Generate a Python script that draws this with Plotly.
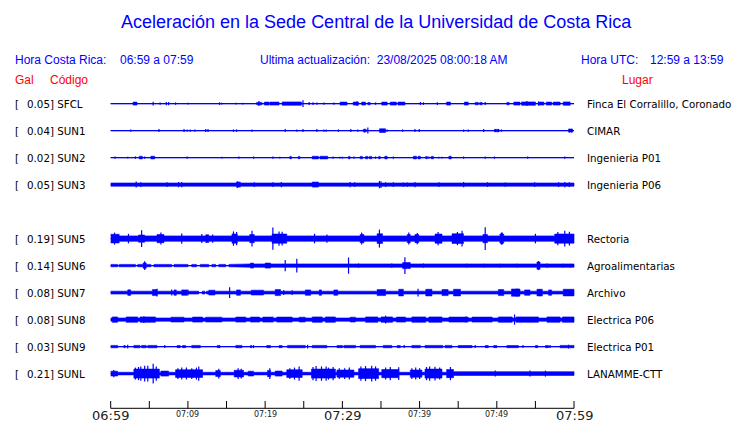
import plotly.graph_objects as go

# ---------------- data ----------------
CODES = ["SFCL", "SUN1", "SUN2", "SUN3", "SUN4", "SUN5", "SUN6", "SUN7", "SUN8", "SUN9", "SUNL"]
GAL_MAX = ["0.05", "0.04", "0.02", "0.05", None, "0.19", "0.14", "0.08", "0.08", "0.03", "0.21"]
PLACES = ["Finca El Corralillo, Coronado", "CIMAR", "Ingenieria P01", "Ingenieria P06", None,
          "Rectoria", "Agroalimentarias", "Archivo", "Electrica P06", "Electrica P01", "LANAMME-CTT"]

# envelope segments [start_min, end_min, half-amplitude Gal]
SEG_SFCL = [[2.9, 3.4, 0.025], [18.9, 19.6, 0.02], [19.9, 20.5, 0.025], [20.6, 21.8, 0.025],
            [22.2, 24.7, 0.028], [29.7, 30.6, 0.025], [31.4, 32.1, 0.025], [32.5, 33.0, 0.025],
            [33.3, 33.6, 0.02], [35.1, 35.8, 0.025], [36.2, 37.0, 0.025], [37.2, 38.1, 0.025],
            [43.5, 44.0, 0.025], [45.8, 46.3, 0.025], [47.2, 47.6, 0.02], [47.8, 48.1, 0.02],
            [51.3, 51.6, 0.02], [52.2, 53.0, 0.025], [53.2, 55.0, 0.028], [55.4, 56.1, 0.025],
            [56.4, 57.1, 0.025], [57.3, 58.2, 0.025], [58.6, 59.5, 0.028]]
SPK_SFCL = [[5.5, 0.03], [6.4, 0.02], [7.2, 0.028], [7.5, 0.028], [8.4, 0.02], [10.0, 0.015],
            [14.1, 0.022], [14.4, 0.015], [16.2, 0.015], [17.1, 0.015], [19.2, 0.042], [24.9, 0.055],
            [25.7, 0.025], [26.2, 0.022], [26.7, 0.02], [27.6, 0.02], [28.9, 0.02], [31.9, 0.04],
            [34.3, 0.02], [40.1, 0.025], [40.5, 0.022], [42.3, 0.022], [48.5, 0.025], [53.9, 0.042],
            [55.4, 0.035]]

SEG_SUN1 = [[34.8, 35.6, 0.03], [32.7, 33.1, 0.02], [49.7, 50.3, 0.02], [59.3, 59.8, 0.025]]
SPK_SUN1 = [[2.6, 0.02], [6.25, 0.025], [9.5, 0.025], [9.9, 0.02], [10.3, 0.02], [10.9, 0.02],
            [12.3, 0.025], [12.6, 0.025], [15.9, 0.02], [16.3, 0.02], [18.3, 0.02], [22.6, 0.025],
            [24.1, 0.02], [24.9, 0.025], [26.7, 0.025], [27.6, 0.02], [27.9, 0.02], [29.5, 0.02],
            [31.1, 0.025], [32.0, 0.02], [32.9, 0.03], [33.3, 0.05], [35.8, 0.02], [37.8, 0.02],
            [39.4, 0.025], [39.96, 0.025], [45.7, 0.02], [46.3, 0.02], [48.3, 0.025], [49.8, 0.025],
            [50.2, 0.025], [50.6, 0.02], [59.4, 0.03], [59.7, 0.03]]

SEG_SUN2 = [[3.7, 4.1, 0.022], [5.2, 5.7, 0.022], [23.2, 23.4, 0.02], [24.3, 24.5, 0.02],
            [26.1, 26.9, 0.022], [27.1, 28.1, 0.022], [30.8, 31.0, 0.02], [32.3, 32.6, 0.02],
            [33.0, 33.3, 0.02], [33.5, 33.8, 0.02], [34.7, 34.9, 0.02], [35.5, 35.8, 0.022],
            [39.2, 39.6, 0.022], [39.8, 40.1, 0.022], [40.8, 41.0, 0.02], [41.5, 41.8, 0.02],
            [43.8, 44.1, 0.022]]
SPK_SUN2 = [[0.56, 0.02], [2.2, 0.015], [3.2, 0.02], [4.4, 0.02], [9.9, 0.018], [14.4, 0.015],
            [16.6, 0.018], [18.5, 0.018], [21.0, 0.02], [21.9, 0.015], [28.8, 0.02], [29.7, 0.015],
            [30.0, 0.015], [31.5, 0.02], [34.3, 0.02], [36.6, 0.02], [41.2, 0.02], [42.5, 0.015],
            [42.9, 0.015], [45.7, 0.02], [48.5, 0.018], [49.7, 0.018], [54.0, 0.018], [58.8, 0.018]]

SEG_SUN3 = [[0, 60, 0.027], [16.3, 16.8, 0.042], [26.1, 26.9, 0.042], [8.75, 9.2, 0.035]]
SPK_SUN3 = [[3.3, 0.05], [3.9, 0.04], [7.3, 0.04], [8.8, 0.045], [9.2, 0.045], [16.4, 0.055],
            [18.6, 0.04], [21.0, 0.04], [22.1, 0.045], [31.0, 0.045], [31.6, 0.04], [34.8, 0.06],
            [35.0, 0.055], [35.6, 0.04], [36.6, 0.04], [37.9, 0.035], [38.4, 0.035], [39.4, 0.045],
            [42.5, 0.04], [45.7, 0.045], [48.8, 0.04], [51.1, 0.035], [54.9, 0.04], [58.0, 0.04],
            [58.8, 0.045], [59.4, 0.04]]

SEG_SUN4 = []
SPK_SUN4 = []

SEG_SUN5 = [[0, 60, 0.045], [0, 1.1, 0.072], [3.6, 4.4, 0.06], [6.0, 6.9, 0.068], [9.0, 9.5, 0.056],
            [12.3, 12.7, 0.064], [15.7, 16.4, 0.076], [18.0, 18.6, 0.068], [20.9, 22.8, 0.076],
            [26.0, 26.9, 0.056], [29.0, 29.5, 0.056], [32.3, 32.8, 0.068], [34.5, 35.2, 0.08],
            [36.5, 36.9, 0.056], [38.4, 38.8, 0.068], [39.4, 39.9, 0.068], [42.0, 42.9, 0.076],
            [44.2, 45.7, 0.08], [48.2, 48.8, 0.068], [50.4, 50.9, 0.076], [54.5, 55.4, 0.056],
            [57.5, 60, 0.076]]
SPK_SUN5 = [[4.0, 0.14], [15.9, 0.12], [16.3, 0.11], [18.3, 0.13], [21.0, 0.185], [22.2, 0.115],
            [34.8, 0.15], [45.5, 0.13], [48.5, 0.19], [50.6, 0.1], [58.8, 0.13], [11.8, 0.075],
            [28.0, 0.07], [0.5, 0.1], [2.3, 0.08], [6.5, 0.1], [9.2, 0.085], [13.2, 0.07],
            [21.8, 0.12], [26.4, 0.08], [32.5, 0.1], [38.6, 0.1], [39.7, 0.095], [42.4, 0.11],
            [44.9, 0.11], [50.7, 0.1], [55.0, 0.08], [57.9, 0.11], [59.4, 0.115]]

SEG_SUN6 = [[0, 0.9, 0.02], [1.1, 3.2, 0.02], [3.5, 5.2, 0.02], [5.6, 7.9, 0.02], [8.2, 10.0, 0.02],
            [10.5, 11.1, 0.02], [11.6, 12.7, 0.02], [13.1, 13.6, 0.02], [14.0, 14.9, 0.02],
            [15.3, 17.8, 0.02], [17.8, 60, 0.028], [4.2, 4.6, 0.045], [18.1, 18.5, 0.042],
            [20.0, 20.7, 0.042], [22.4, 22.8, 0.04], [26.1, 26.9, 0.04], [37.8, 38.8, 0.05],
            [44.3, 44.8, 0.035], [55.2, 55.6, 0.06], [54.2, 54.4, 0.04]]
SPK_SUN6 = [[4.4, 0.072], [22.6, 0.095], [24.1, 0.115], [30.8, 0.135], [38.1, 0.14], [32.1, 0.035],
            [36.4, 0.035], [40.5, 0.035], [46.1, 0.03], [48.3, 0.03], [50.4, 0.03], [52.6, 0.03],
            [55.4, 0.075], [56.5, 0.035], [58.6, 0.03], [59.5, 0.03]]

SEG_SUN7 = [[0, 11.4, 0.024], [11.85, 12.2, 0.024], [12.4, 60, 0.024], [2.2, 2.6, 0.045],
            [5.4, 6.0, 0.05], [8.2, 8.5, 0.045], [9.2, 9.9, 0.045], [12.7, 13.5, 0.04],
            [16.3, 16.8, 0.045], [18.2, 19.8, 0.04], [21.3, 22.0, 0.05], [25.2, 25.9, 0.045],
            [27.0, 27.3, 0.045], [28.9, 29.4, 0.045], [34.5, 35.6, 0.05], [37.3, 37.9, 0.055],
            [40.8, 41.6, 0.055], [42.9, 43.7, 0.05], [44.4, 45.3, 0.055], [50.2, 50.9, 0.05],
            [51.9, 53.0, 0.06], [53.6, 54.3, 0.045], [55.2, 55.9, 0.055], [56.7, 57.1, 0.045],
            [58.6, 60, 0.055]]
SPK_SUN7 = [[15.4, 0.09], [6.0, 0.065], [2.4, 0.05], [39.8, 0.065], [52.6, 0.07], [55.6, 0.06],
            [7.9, 0.05], [10.0, 0.05], [22.4, 0.04], [23.5, 0.04]]

SEG_SUN8 = [[0, 60, 0.027], [0.2, 0.9, 0.045], [2.0, 3.5, 0.045], [3.8, 5.8, 0.045],
            [7.8, 9.5, 0.04], [10.6, 11.9, 0.042], [12.3, 14.4, 0.04], [16.2, 17.5, 0.042],
            [18.1, 19.3, 0.042], [19.7, 20.9, 0.042], [21.5, 23.5, 0.042], [24.4, 25.2, 0.04],
            [26.1, 27.4, 0.045], [27.8, 29.1, 0.045], [31.0, 31.7, 0.04], [33.0, 34.6, 0.045],
            [35.0, 36.5, 0.045], [37.0, 38.2, 0.042], [39.0, 40.8, 0.045], [41.2, 42.9, 0.045],
            [43.8, 46.3, 0.042], [46.8, 49.4, 0.042], [50.2, 52.0, 0.045], [52.5, 55.4, 0.045],
            [56.5, 58.2, 0.045], [58.5, 60, 0.045]]
SPK_SUN8 = [[52.3, 0.085], [35.6, 0.065], [4.3, 0.055], [21.0, 0.05], [46.0, 0.05]]

SEG_SUN9 = [[0, 0.9, 0.02], [1.7, 1.9, 0.018], [3.0, 3.8, 0.02], [4.0, 4.6, 0.02], [4.8, 6.0, 0.02],
            [8.6, 9.0, 0.018], [9.3, 9.7, 0.018], [10.5, 11.6, 0.02], [13.8, 14.0, 0.018],
            [16.2, 17.0, 0.02], [18.1, 18.3, 0.018], [20.2, 20.7, 0.018], [21.8, 22.2, 0.018],
            [22.9, 25.2, 0.02], [26.1, 28.0, 0.02], [29.3, 30.0, 0.018], [30.2, 31.7, 0.02],
            [32.3, 34.3, 0.02], [35.3, 36.4, 0.02], [37.1, 37.5, 0.018], [39.0, 40.1, 0.02],
            [40.7, 43.0, 0.02], [43.3, 44.2, 0.02], [45.0, 46.8, 0.018], [48.5, 48.9, 0.018],
            [49.6, 50.0, 0.018], [51.3, 52.8, 0.018], [55.0, 55.3, 0.018], [56.3, 56.7, 0.018],
            [58.2, 60, 0.02]]
SPK_SUN9 = [[2.2, 0.03], [7.0, 0.025], [14.1, 0.025], [18.5, 0.025], [25.5, 0.03], [38.0, 0.025],
            [47.2, 0.025], [53.4, 0.025], [56.9, 0.025], [59.3, 0.03]]

SEG_SUNL = [[0, 60, 0.022], [44.4, 60, 0.032], [0, 0.9, 0.04], [1.7, 2.8, 0.034], [3.0, 6.3, 0.075],
            [6.5, 7.5, 0.042], [8.4, 11.9, 0.064], [13.6, 14.2, 0.05], [16.0, 17.2, 0.056],
            [17.8, 18.5, 0.04], [19.0, 19.6, 0.03], [20.3, 20.7, 0.052], [21.3, 22.2, 0.042],
            [22.8, 24.8, 0.064], [26.0, 29.1, 0.075], [29.3, 31.5, 0.06], [32.1, 34.7, 0.082],
            [35.1, 37.3, 0.068], [38.8, 40.3, 0.06], [40.7, 42.9, 0.075], [43.5, 44.4, 0.068]]
SPK_SUNL = [[5.5, 0.165], [4.4, 0.13], [3.6, 0.11], [11.4, 0.12], [9.2, 0.1], [14.0, 0.08],
            [16.5, 0.09], [20.6, 0.09], [24.4, 0.12], [26.6, 0.125], [27.9, 0.12], [28.8, 0.11],
            [30.9, 0.1], [33.0, 0.125], [33.8, 0.13], [36.2, 0.11], [37.3, 0.105], [39.5, 0.1],
            [41.3, 0.12], [42.0, 0.115], [44.0, 0.11], [49.8, 0.05], [54.3, 0.05], [56.3, 0.05],
            [3.2, 0.1], [3.9, 0.12], [4.8, 0.13], [5.9, 0.12], [8.7, 0.09], [9.8, 0.1],
            [10.5, 0.09], [11.1, 0.1], [23.2, 0.09], [23.8, 0.1], [26.2, 0.11], [27.3, 0.12],
            [28.2, 0.1], [29.6, 0.09], [30.3, 0.09], [32.4, 0.12], [34.3, 0.12], [35.6, 0.1],
            [39.0, 0.09], [40.0, 0.09], [40.9, 0.11], [42.6, 0.1], [16.9, 0.08], [0.4, 0.06]]

SEGMENTS = [SEG_SFCL, SEG_SUN1, SEG_SUN2, SEG_SUN3, SEG_SUN4, SEG_SUN5, SEG_SUN6, SEG_SUN7,
            SEG_SUN8, SEG_SUN9, SEG_SUNL]
SPIKES = [SPK_SFCL, SPK_SUN1, SPK_SUN2, SPK_SUN3, SPK_SUN4, SPK_SUN5, SPK_SUN6, SPK_SUN7,
          SPK_SUN8, SPK_SUN9, SPK_SUNL]

DURATION_MIN = 60
TICK_MINUTES = list(range(0, 61, 5))
LABEL_MINUTES = [0, 10, 20, 30, 40, 50, 60]
LABEL_TEXT = ["06:59", "07:09", "07:19", "07:29", "07:39", "07:49", "07:59"]
MAJOR_LABELS = ["06:59", "07:29", "07:59"]

TITLE = "Aceleración en la Sede Central de la Universidad de Costa Rica"
LOCAL_RANGE = "06:59 a 07:59"
UTC_RANGE = "12:59 a 13:59"
UPDATED = "23/08/2025 08:00:18 AM"

# ---------------- layout constants ----------------
W, H = 740, 423
ROW0_PX, ROW_PX = 103.6, 27.0         # first row baseline & row spacing (px)
X0_PX, PX_PER_MIN = 110.7, 7.722
GAL_TO_ROW = 60.0 / ROW_PX            # 60 px per Gal
AXIS_PX, TICK_TOP_PX = 408.3, 401.0
BLUE = "#0000ff"
RED = "#ff0000"


def px_to_row(py):
    return (py - ROW0_PX) / ROW_PX


def envelope(segs):
    xs = sorted(set([0, DURATION_MIN] + [s[0] for s in segs] + [s[1] for s in segs]))
    ex, ea = [], []
    for a0, a1 in zip(xs[:-1], xs[1:]):
        mid = (a0 + a1) / 2
        amp = max([s[2] for s in segs if s[0] <= mid <= s[1]], default=0.0)
        ex += [a0, a1]
        ea += [amp, amp]
    return ex, ea


fig = go.Figure()
annotations = []

for i, code in enumerate(CODES):
    if GAL_MAX[i] is None:
        continue
    base = i
    fig.add_trace(go.Scatter(x=[0, DURATION_MIN], y=[base, base], mode="lines",
                             line=dict(color=BLUE, width=1.1), hoverinfo="skip"))
    segs = SEGMENTS[i]
    if segs:
        ex, ea = envelope(segs)
        px = ex + ex[::-1]
        py = [base - a * GAL_TO_ROW for a in ea] + [base + a * GAL_TO_ROW for a in ea[::-1]]
        fig.add_trace(go.Scatter(x=px, y=py, mode="lines", fill="toself", fillcolor=BLUE,
                                 line=dict(color=BLUE, width=0.6), hoverinfo="skip"))
    sx, sy = [], []
    for m, a in SPIKES[i]:
        sx += [m, m, None]
        sy += [base - a * GAL_TO_ROW, base + a * GAL_TO_ROW, None]
    if sx:
        fig.add_trace(go.Scatter(x=sx, y=sy, mode="lines", line=dict(color=BLUE, width=1.2),
                                 hoverinfo="skip"))
    yp = 1 - (ROW0_PX + ROW_PX * i) / H
    txt_font = dict(family="DejaVu Sans", size=10.3, color="black")
    annotations.append(dict(x=13 / W, y=yp, xref="paper", yref="paper", text="[",
                            showarrow=False, xanchor="left", yanchor="middle", font=txt_font))
    annotations.append(dict(x=25 / W, y=yp, xref="paper", yref="paper",
                            text=f"{GAL_MAX[i]}] {code}", showarrow=False,
                            xanchor="left", yanchor="middle", font=txt_font))
    annotations.append(dict(x=585 / W, y=yp, xref="paper", yref="paper", text=PLACES[i],
                            showarrow=False, xanchor="left", yanchor="middle", font=txt_font))

# time axis
axis_row = px_to_row(AXIS_PX)
tick_row = px_to_row(TICK_TOP_PX)
fig.add_trace(go.Scatter(x=[0, DURATION_MIN], y=[axis_row, axis_row], mode="lines",
                         line=dict(color="black", width=1), hoverinfo="skip"))
tx, ty = [], []
for m in TICK_MINUTES:
    tx += [m, m, None]
    ty += [axis_row, tick_row, None]
fig.add_trace(go.Scatter(x=tx, y=ty, mode="lines", line=dict(color="black", width=1),
                         hoverinfo="skip"))
for m, lab in zip(LABEL_MINUTES, LABEL_TEXT):
    major = lab in MAJOR_LABELS
    annotations.append(dict(x=m, y=px_to_row(415.5 if major else 414.0), xref="x", yref="y",
                            text=lab, showarrow=False, xanchor="center", yanchor="middle",
                            font=dict(family="DejaVu Sans", size=13 if major else 8,
                                      color="#222222")))


def hdr(text, xpx, ypx, color=BLUE, size=12, anchor="left", family="Liberation Sans"):
    annotations.append(dict(x=xpx / W, y=1 - ypx / H, xref="paper", yref="paper", text=text,
                            showarrow=False, xanchor=anchor, yanchor="middle",
                            font=dict(family=family, size=size, color=color)))


hdr(TITLE, 376.5, 22, size=18, anchor="center")
hdr("Hora Costa Rica:", 13, 60)
hdr(LOCAL_RANGE, 118, 60)
hdr("Ultima actualización:\u00a0\u00a0" + UPDATED, 258, 60)
hdr("Hora UTC:", 579, 60)
hdr(UTC_RANGE, 648, 60)
hdr("Gal", 13, 80, color=RED)
hdr("Código", 48, 80, color=RED)
hdr("Lugar", 620, 80, color=RED)

fig.update_layout(
    width=W, height=H, margin=dict(l=0, r=0, t=0, b=0),
    paper_bgcolor="white", plot_bgcolor="white", showlegend=False,
    xaxis=dict(range=[-X0_PX / PX_PER_MIN, (W - X0_PX) / PX_PER_MIN], visible=False,
               fixedrange=True),
    yaxis=dict(range=[px_to_row(H), px_to_row(0)], visible=False, fixedrange=True),
    annotations=annotations,
)

fig.write_html("out.html", config={"displayModeBar": False},
               post_script="document.body.style.margin='0';document.body.style.overflow='hidden';")
